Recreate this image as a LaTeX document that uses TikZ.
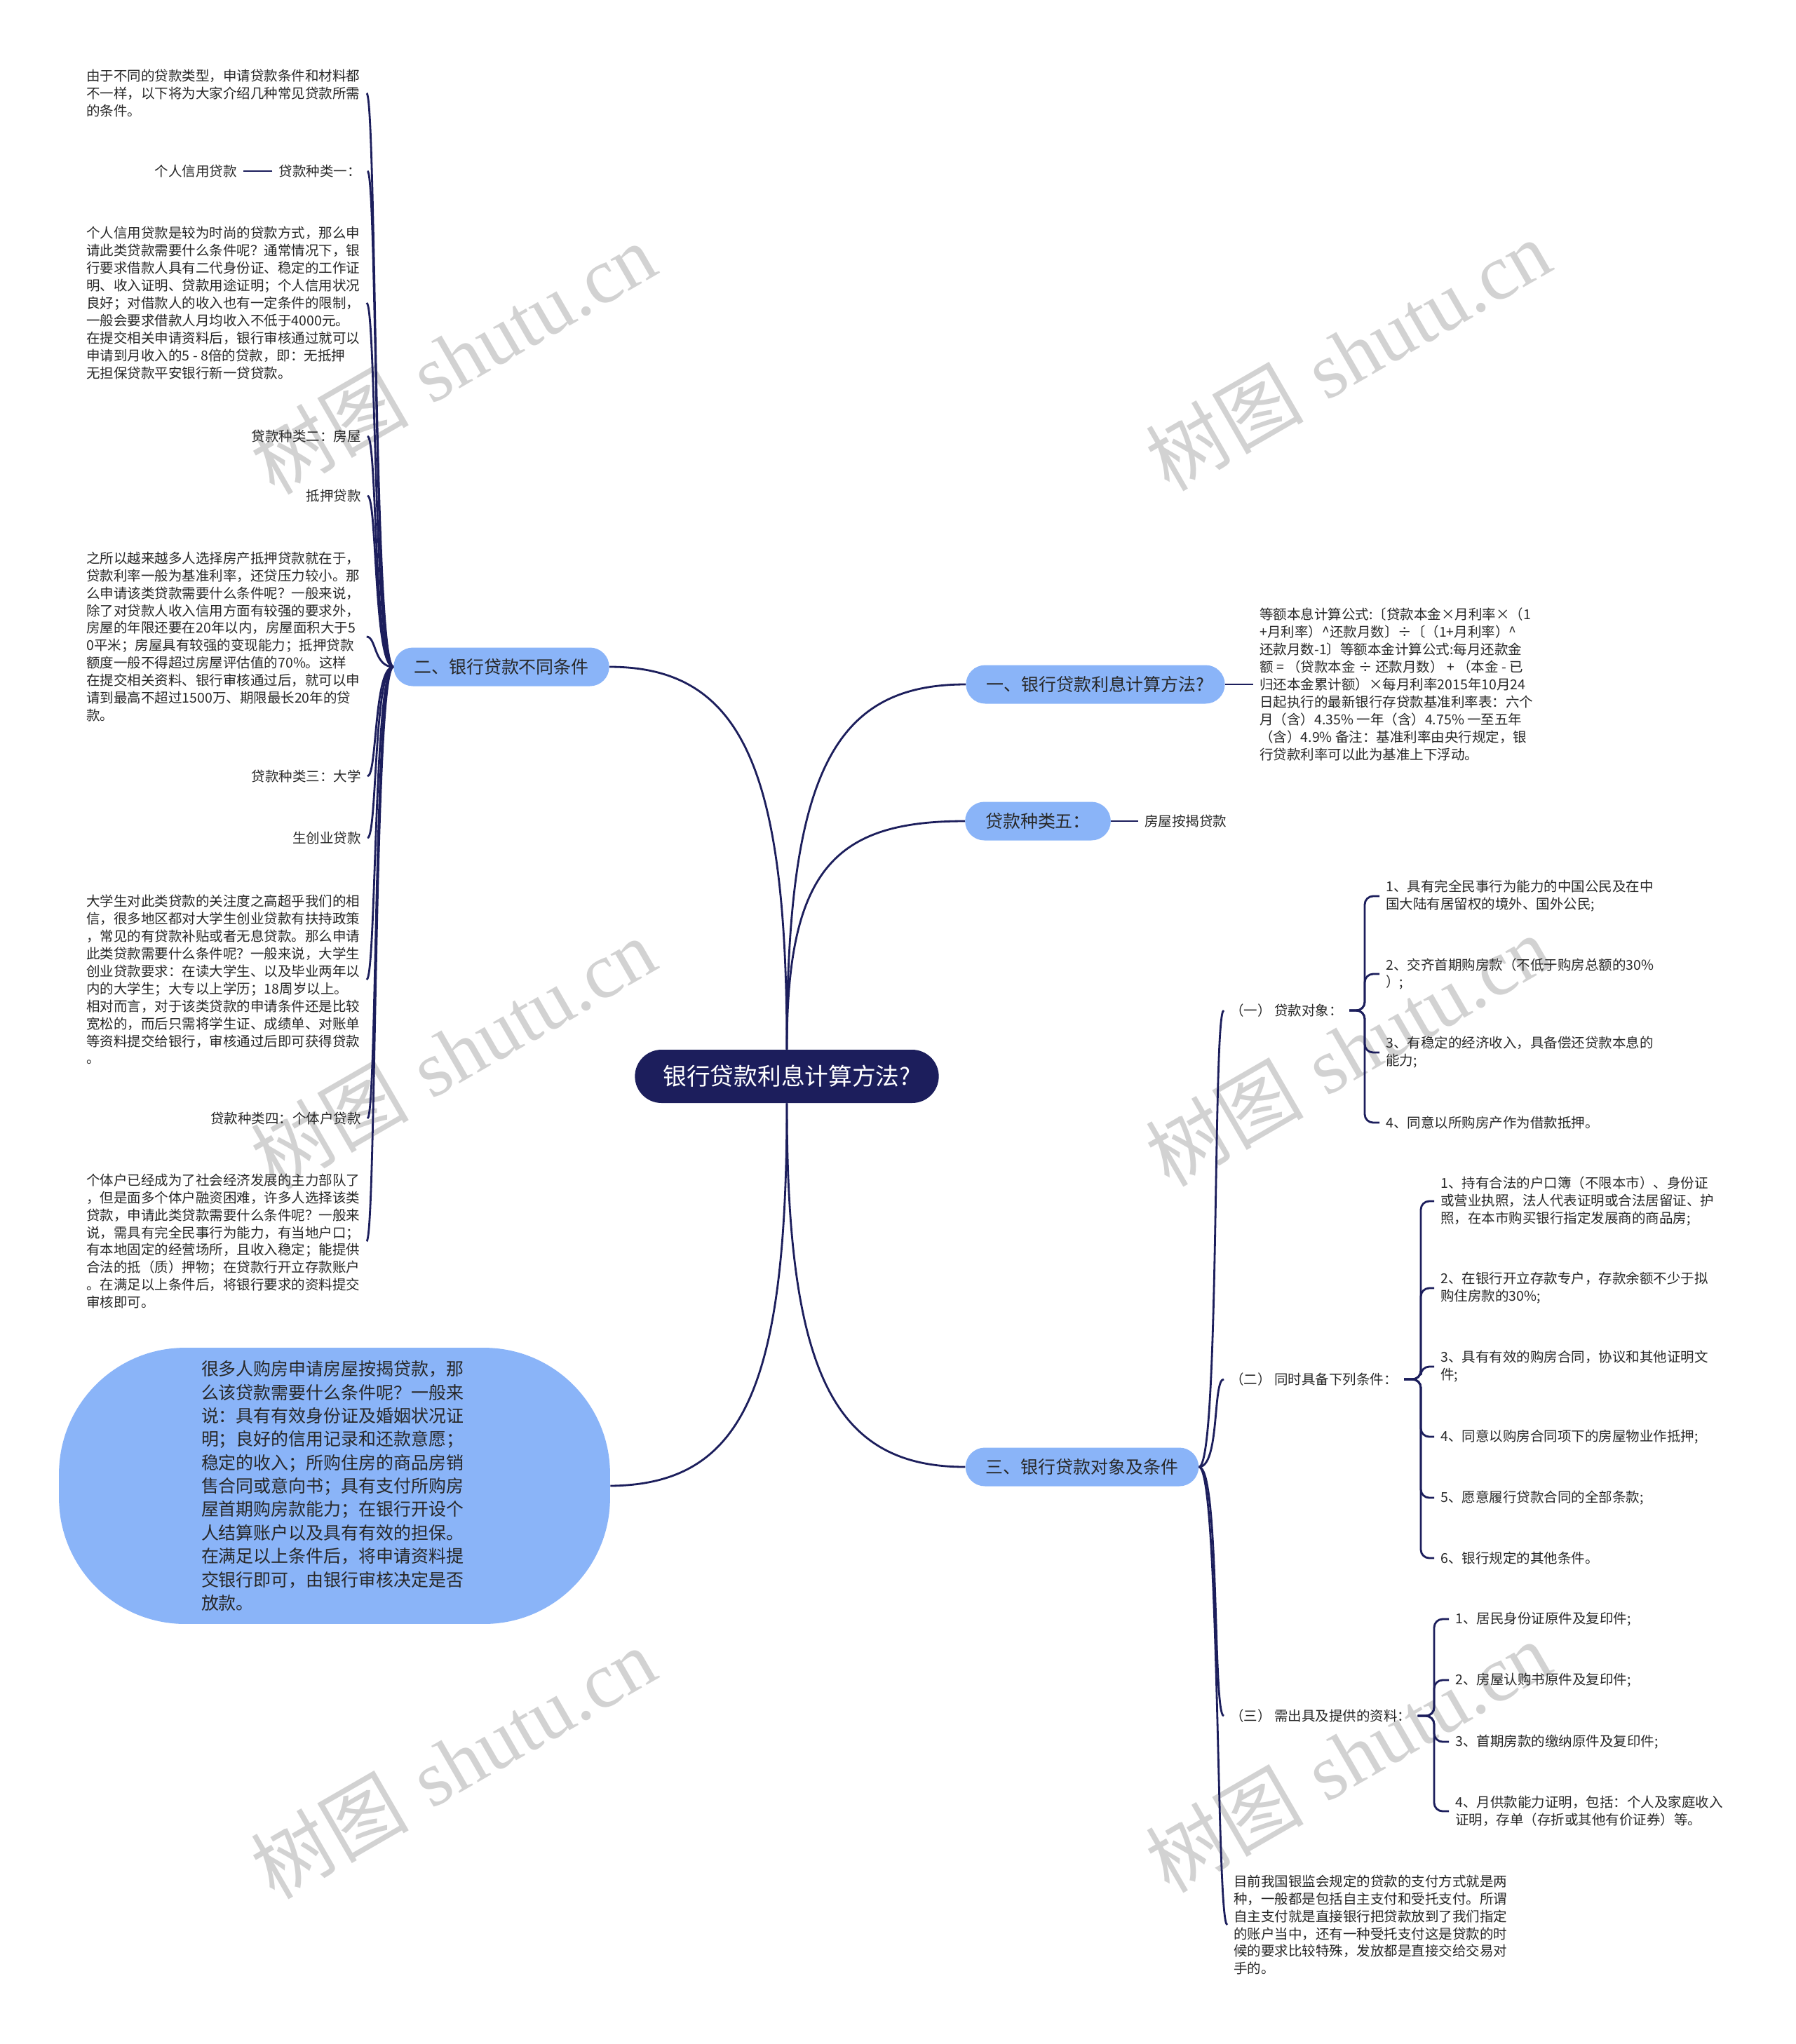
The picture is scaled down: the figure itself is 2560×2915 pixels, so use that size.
\documentclass[tikz,border=0pt]{standalone}
\usepackage{fontspec}
\newfontfamily\cjk{Noto Sans CJK SC}
\newfontfamily\wmlatin{Liberation Serif}
\usetikzlibrary{positioning}

\definecolor{navy}{RGB}{28,30,92}
\definecolor{pillblue}{RGB}{138,180,248}
\definecolor{inkgray}{RGB}{40,40,40}
\definecolor{wmgray}{RGB}{210,210,210}

\tikzset{
  conn/.style={draw=navy, line width=1.6pt},
  brace/.style={draw=navy, line width=1.6pt, rounded corners=0.24cm},
  hub/.style={fill=navy, text=white, rounded corners=0.76cm, minimum height=1.52cm, inner xsep=0.8cm, inner ysep=0pt, font=\cjk\fontsize{19.2}{23}\selectfont},
  pill/.style={fill=pillblue, text=inkgray, rounded corners=0.55cm, minimum height=1.1cm, inner xsep=0.58cm, inner ysep=0pt, font=\cjk\fontsize{14.2}{17}\selectfont},
  bigpill/.style={fill=pillblue, text=inkgray, rounded corners=3.6cm, minimum width=15.72cm, minimum height=7.88cm, text width=7.6cm, align=left, inner sep=0pt, font=\cjk\fontsize{14.2}{19}\selectfont},
  leaf/.style={text=inkgray, align=left, inner xsep=0.18cm, inner ysep=2pt, font=\cjk\fontsize{11.1}{14.2}\selectfont},
  wmark/.style={text=wmgray, rotate=30, inner sep=0pt, font=\fontsize{64}{64}\selectfont}
}

\begin{document}
\begin{tikzpicture}[x=0.02cm, y=-0.02cm]
    \useasboundingbox (0,0) rectangle (2560,2915);
    \fill[white] (0,0) rectangle (2560,2915);

    % Watermarks (behind everything)
    \node[wmark] (wm1) at (646,511) {{\cjk 树图} {\wmlatin shutu.cn}};
    \node[wmark] (wm2) at (1922,506) {{\cjk 树图} {\wmlatin shutu.cn}};
    \node[wmark] (wm3) at (646,1502) {{\cjk 树图} {\wmlatin shutu.cn}};
    \node[wmark] (wm4) at (1922,1498) {{\cjk 树图} {\wmlatin shutu.cn}};
    \node[wmark] (wm5) at (646,2514) {{\cjk 树图} {\wmlatin shutu.cn}};
    \node[wmark] (wm6) at (1922,2505) {{\cjk 树图} {\wmlatin shutu.cn}};

    % Central topic
    \node[hub] (root) at (1122,1535) {银行贷款利息计算方法?};

    % Main branches
    \node[pill] (L2) at (715,951) {二、银行贷款不同条件};
    \node[pill] (L1) at (1562,976) {一、银行贷款利息计算方法?};
    \node[pill] (L5) at (1480,1171) {贷款种类五：};
    \node[pill] (L3) at (1543,2092) {三、银行贷款对象及条件};
    \node[bigpill] (big) at (477,2119) {很多人购房申请房屋按揭贷款，那\\
么该贷款需要什么条件呢？一般来\\
说：具有有效身份证及婚姻状况证\\
明；良好的信用记录和还款意愿；\\
稳定的收入；所购住房的商品房销\\
售合同或意向书；具有支付所购房\\
屋首期购房款能力；在银行开设个\\
人结算账户以及具有有效的担保。\\
在满足以上条件后，将申请资料提\\
交银行即可，由银行审核决定是否\\
放款。};

    \draw[conn] (root.north) .. controls (1122,1100) and (1060,951) .. (L2.east);
    \draw[conn] (root.north) .. controls (1122,1100) and (1190,976) .. (L1.west);
    \draw[conn] (root.north) .. controls (1122,1240) and (1190,1171) .. (L5.west);
    \draw[conn] (root.south) .. controls (1122,1960) and (1190,2092) .. (L3.west);
    \draw[conn] (root.south) .. controls (1122,1980) and (1060,2117) .. (big.east);

    % Left side: loan types
    \node[leaf, anchor=west] (n0) at (114,133) {由于不同的贷款类型，申请贷款条件和材料都\\
不一样，以下将为大家介绍几种常见贷款所需\\
的条件。};
    \node[leaf, anchor=east] (k1) at (524,244) {贷款种类一：};
    \node[leaf, anchor=east, left=0.82cm of k1] (k1a) {个人信用贷款};
    \node[leaf, anchor=west] (p1) at (114,432) {个人信用贷款是较为时尚的贷款方式，那么申\\
请此类贷款需要什么条件呢？通常情况下，银\\
行要求借款人具有二代身份证、稳定的工作证\\
明、收入证明、贷款用途证明；个人信用状况\\
良好；对借款人的收入也有一定条件的限制，\\
一般会要求借款人月均收入不低于4000元。\\
在提交相关申请资料后，银行审核通过就可以\\
申请到月收入的5 - 8倍的贷款，即：无抵押\\
无担保贷款平安银行新一贷贷款。};
    \node[leaf, anchor=east] (k2) at (524,622) {贷款种类二：房屋};
    \node[leaf, anchor=east] (k2b) at (524,707) {抵押贷款};
    \node[leaf, anchor=west] (p2) at (114,908) {之所以越来越多人选择房产抵押贷款就在于，\\
贷款利率一般为基准利率，还贷压力较小。那\\
么申请该类贷款需要什么条件呢？一般来说，\\
除了对贷款人收入信用方面有较强的要求外，\\
房屋的年限还要在20年以内，房屋面积大于5\\
0平米；房屋具有较强的变现能力；抵押贷款\\
额度一般不得超过房屋评估值的70\%。这样\\
在提交相关资料、银行审核通过后，就可以申\\
请到最高不超过1500万、期限最长20年的贷\\
款。};
    \node[leaf, anchor=east] (k3) at (524,1107) {贷款种类三：大学};
    \node[leaf, anchor=east] (k3b) at (524,1195) {生创业贷款};
    \node[leaf, anchor=west] (p3) at (114,1397) {大学生对此类贷款的关注度之高超乎我们的相\\
信，很多地区都对大学生创业贷款有扶持政策\\
，常见的有贷款补贴或者无息贷款。那么申请\\
此类贷款需要什么条件呢？一般来说，大学生\\
创业贷款要求：在读大学生、以及毕业两年以\\
内的大学生；大专以上学历；18周岁以上。\\
相对而言，对于该类贷款的申请条件还是比较\\
宽松的，而后只需将学生证、成绩单、对账单\\
等资料提交给银行，审核通过后即可获得贷款\\
。};
    \node[leaf, anchor=east] (k4) at (524,1595) {贷款种类四：个体户贷款};
    \node[leaf, anchor=west] (p4) at (114,1770) {个体户已经成为了社会经济发展的主力部队了\\
，但是面多个体户融资困难，许多人选择该类\\
贷款，申请此类贷款需要什么条件呢？一般来\\
说，需具有完全民事行为能力，有当地户口；\\
有本地固定的经营场所，且收入稳定；能提供\\
合法的抵（质）押物；在贷款行开立存款账户\\
。在满足以上条件后，将银行要求的资料提交\\
审核即可。};

    \draw[conn] (L2.west) .. controls +(-28,0) and +(14,0) .. (n0.east);
    \draw[conn] (L2.west) .. controls +(-28,0) and +(14,0) .. (k1.east);
    \draw[conn] (k1.west) -- (k1a.east);
    \draw[conn] (L2.west) .. controls +(-28,0) and +(14,0) .. (p1.east);
    \draw[conn] (L2.west) .. controls +(-28,0) and +(14,0) .. (k2.east);
    \draw[conn] (L2.west) .. controls +(-28,0) and +(14,0) .. (k2b.east);
    \draw[conn] (L2.west) .. controls +(-28,0) and +(14,0) .. (p2.east);
    \draw[conn] (L2.west) .. controls +(-28,0) and +(14,0) .. (k3.east);
    \draw[conn] (L2.west) .. controls +(-28,0) and +(14,0) .. (k3b.east);
    \draw[conn] (L2.west) .. controls +(-28,0) and +(14,0) .. (p3.east);
    \draw[conn] (L2.west) .. controls +(-28,0) and +(14,0) .. (k4.east);
    \draw[conn] (L2.west) .. controls +(-28,0) and +(14,0) .. (p4.east);

    % Right side: interest formula and type five
    \node[leaf, anchor=west] (d1) at (1787,976) {等额本息计算公式:〔贷款本金×月利率×（1\\
+月利率）\^{}还款月数〕÷〔（1+月利率）\^{}\\
还款月数-1〕等额本金计算公式:每月还款金\\
额 = （贷款本金 ÷ 还款月数） + （本金 - 已\\
归还本金累计额）×每月利率2015年10月24\\
日起执行的最新银行存贷款基准利率表：六个\\
月（含）4.35\% 一年（含）4.75\% 一至五年\\
（含）4.9\% 备注：基准利率由央行规定，银\\
行贷款利率可以此为基准上下浮动。};
    \node[leaf, anchor=west] (k5) at (1623,1171) {房屋按揭贷款};
    \draw[conn] (L1.east) -- (d1.west);
    \draw[conn] (L5.east) -- (k5.west);

    % Right side: loan targets and conditions
    \node[leaf, anchor=west] (S1) at (1745,1441) {（一） 贷款对象：};
    \node[leaf, anchor=west] (a1) at (1967,1278) {1、具有完全民事行为能力的中国公民及在中\\
国大陆有居留权的境外、国外公民;};
    \node[leaf, anchor=west] (a2) at (1967,1389) {2、交齐首期购房款（不低于购房总额的30\%\\
）;};
    \node[leaf, anchor=west] (a3) at (1967,1501) {3、有稳定的经济收入，具备偿还贷款本息的\\
能力;};
    \node[leaf, anchor=west] (a4) at (1967,1601) {4、同意以所购房产作为借款抵押。};

    \node[leaf, anchor=west] (S2) at (1745,1967) {（二） 同时具备下列条件：};
    \node[leaf, anchor=west] (b1) at (2045,1713) {1、持有合法的户口簿（不限本市）、身份证\\
或营业执照，法人代表证明或合法居留证、护\\
照，在本市购买银行指定发展商的商品房;};
    \node[leaf, anchor=west] (b2) at (2045,1837) {2、在银行开立存款专户，存款余额不少于拟\\
购住房款的30\%;};
    \node[leaf, anchor=west] (b3) at (2045,1949) {3、具有有效的购房合同，协议和其他证明文\\
件;};
    \node[leaf, anchor=west] (b4) at (2045,2049) {4、同意以购房合同项下的房屋物业作抵押;};
    \node[leaf, anchor=west] (b5) at (2045,2136) {5、愿意履行贷款合同的全部条款;};
    \node[leaf, anchor=west] (b6) at (2045,2222) {6、银行规定的其他条件。};

    \node[leaf, anchor=west] (S3) at (1745,2447) {（三） 需出具及提供的资料：};
    \node[leaf, anchor=west] (c1) at (2066,2309) {1、居民身份证原件及复印件;};
    \node[leaf, anchor=west] (c2) at (2066,2396) {2、房屋认购书原件及复印件;};
    \node[leaf, anchor=west] (c3) at (2066,2484) {3、首期房款的缴纳原件及复印件;};
    \node[leaf, anchor=west] (c4) at (2066,2583) {4、月供款能力证明，包括：个人及家庭收入\\
证明，存单（存折或其他有价证券）等。};

    \node[leaf, anchor=west] (d3) at (1750,2745) {目前我国银监会规定的贷款的支付方式就是两\\
种，一般都是包括自主支付和受托支付。所谓\\
自主支付就是直接银行把贷款放到了我们指定\\
的账户当中，还有一种受托支付这是贷款的时\\
候的要求比较特殊，发放都是直接交给交易对\\
手的。};

    \draw[conn] (L3.east) .. controls +(30,0) and +(-16,0) .. (S1.west);
    \draw[conn] (L3.east) .. controls +(30,0) and +(-16,0) .. (S2.west);
    \draw[conn] (L3.east) .. controls +(30,0) and +(-16,0) .. (S3.west);
    \draw[conn] (L3.east) .. controls +(30,0) and +(-16,0) .. (d3.west);

    % Brackets
    \coordinate (j1) at (1946,1441);
    \coordinate (j2) at (2026,1967);
    \coordinate (j3) at (2045,2447);
    \draw[brace] (S1.east) -- (j1) |- (a1.west);
    \draw[brace] (S1.east) -- (j1) |- (a2.west);
    \draw[brace] (S1.east) -- (j1) |- (a3.west);
    \draw[brace] (S1.east) -- (j1) |- (a4.west);
    \draw[brace] (S2.east) -- (j2) |- (b1.west);
    \draw[brace] (S2.east) -- (j2) |- (b2.west);
    \draw[brace] (S2.east) -- (j2) |- (b3.west);
    \draw[brace] (S2.east) -- (j2) |- (b4.west);
    \draw[brace] (S2.east) -- (j2) |- (b5.west);
    \draw[brace] (S2.east) -- (j2) |- (b6.west);
    \draw[brace] (S3.east) -- (j3) |- (c1.west);
    \draw[brace] (S3.east) -- (j3) |- (c2.west);
    \draw[brace] (S3.east) -- (j3) |- (c3.west);
    \draw[brace] (S3.east) -- (j3) |- (c4.west);
\end{tikzpicture}
\end{document}
